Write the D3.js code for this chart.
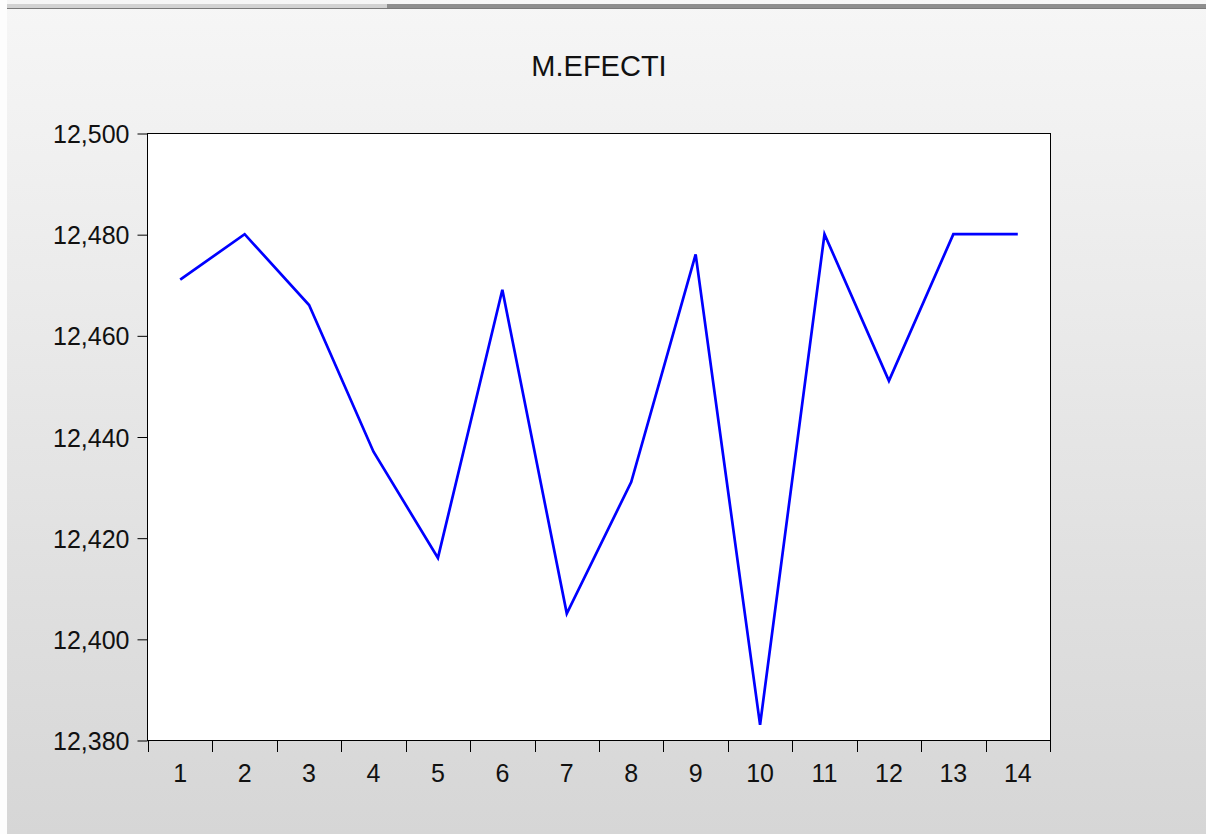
<!DOCTYPE html>
<html>
<head>
<meta charset="utf-8">
<script src="https://cdn.jsdelivr.net/npm/d3@7"></script>
<style>
  html, body { margin: 0; padding: 0; }
  body { width: 1206px; height: 834px; overflow: hidden; }
  text { font-family: "Liberation Sans", Arial, sans-serif; fill: #111; }
</style>
</head>
<body>
<div id="chart"></div>
<script>
const periods = [1, 2, 3, 4, 5, 6, 7, 8, 9, 10, 11, 12, 13, 14];
const values = [12471, 12480, 12466, 12437, 12416, 12469, 12405, 12431, 12476, 12383, 12480, 12451, 12480, 12480];
const yTicks = [12380, 12400, 12420, 12440, 12460, 12480, 12500];
const title = "M.EFECTI";

const W = 1206, H = 834;
const plot = { left: 148, right: 1050, top: 133, bottom: 740 };

const svg = d3.select("#chart")
    .append("svg")
    .attr("width", W)
    .attr("height", H);

const defs = svg.append("defs");
const grad = defs.append("linearGradient")
    .attr("id", "bg")
    .attr("x1", 0).attr("y1", 0).attr("x2", 0).attr("y2", 1);
grad.append("stop").attr("offset", "0%").attr("stop-color", "#f6f6f6");
grad.append("stop").attr("offset", "100%").attr("stop-color", "#d6d6d6");

svg.append("rect")
    .attr("width", W).attr("height", H)
    .attr("fill", "url(#bg)");

// left white strip and window bar at the top
svg.append("rect").attr("x", 0).attr("y", 0).attr("width", 7).attr("height", H).attr("fill", "#fdfdfd");
svg.append("rect").attr("x", 7).attr("y", 4).attr("width", W - 7).attr("height", 4).attr("fill", "#d2d2d2");
svg.append("rect").attr("x", 387).attr("y", 4).attr("width", W - 387).attr("height", 4).attr("fill", "#8e8e8e");
svg.append("line").attr("x1", 7).attr("x2", W).attr("y1", 8.5).attr("y2", 8.5).attr("stroke", "#7a7a7a");

const x = d3.scaleBand()
    .domain(periods)
    .range([plot.left, plot.right]);

const y = d3.scaleLinear()
    .domain([12380, 12500])
    .range([plot.bottom, plot.top]);

svg.append("rect")
    .attr("x", plot.left - 0.5)
    .attr("y", plot.top + 0.5)
    .attr("width", plot.right - plot.left + 1)
    .attr("height", plot.bottom - plot.top)
    .attr("fill", "#fff")
    .attr("stroke", "#000")
    .attr("stroke-width", 1);

// y axis
const yAxis = svg.append("g")
    .attr("transform", `translate(${plot.left - 0.5},0.5)`)
    .call(d3.axisLeft(y)
        .tickValues(yTicks)
        .tickSize(10)
        .tickPadding(8)
        .tickFormat(d3.format(",")));
yAxis.select(".domain").remove();
yAxis.selectAll(".tick line").attr("stroke", "#000");
yAxis.selectAll(".tick text")
    .attr("font-size", 25)
    .attr("font-family", "Liberation Sans, Arial, sans-serif")
    .attr("fill", "#111")
    .attr("dy", "0.36em");

// x axis: ticks on the band edges, labels in the middle
const edges = periods.map(p => x(p)).concat([plot.right]);
svg.append("g")
    .selectAll("line")
    .data(edges)
    .join("line")
    .attr("x1", d => Math.round(d) + 0.5)
    .attr("x2", d => Math.round(d) + 0.5)
    .attr("y1", plot.bottom)
    .attr("y2", plot.bottom + 12)
    .attr("stroke", "#000");

svg.append("g")
    .selectAll("text")
    .data(periods)
    .join("text")
    .attr("x", d => x(d) + x.bandwidth() / 2)
    .attr("y", 782)
    .attr("text-anchor", "middle")
    .attr("font-size", 25)
    .text(d => d);

const line = d3.line()
    .x((d, i) => x(periods[i]) + x.bandwidth() / 2)
    .y(d => y(d));

svg.append("path")
    .datum(values)
    .attr("fill", "none")
    .attr("stroke", "#0000ff")
    .attr("stroke-width", 2.7)
    .attr("stroke-linejoin", "miter")
    .attr("d", line);

svg.append("text")
    .attr("x", (plot.left + plot.right) / 2)
    .attr("y", 76)
    .attr("text-anchor", "middle")
    .attr("font-size", 29)
    .text(title);
</script>
</body>
</html>
